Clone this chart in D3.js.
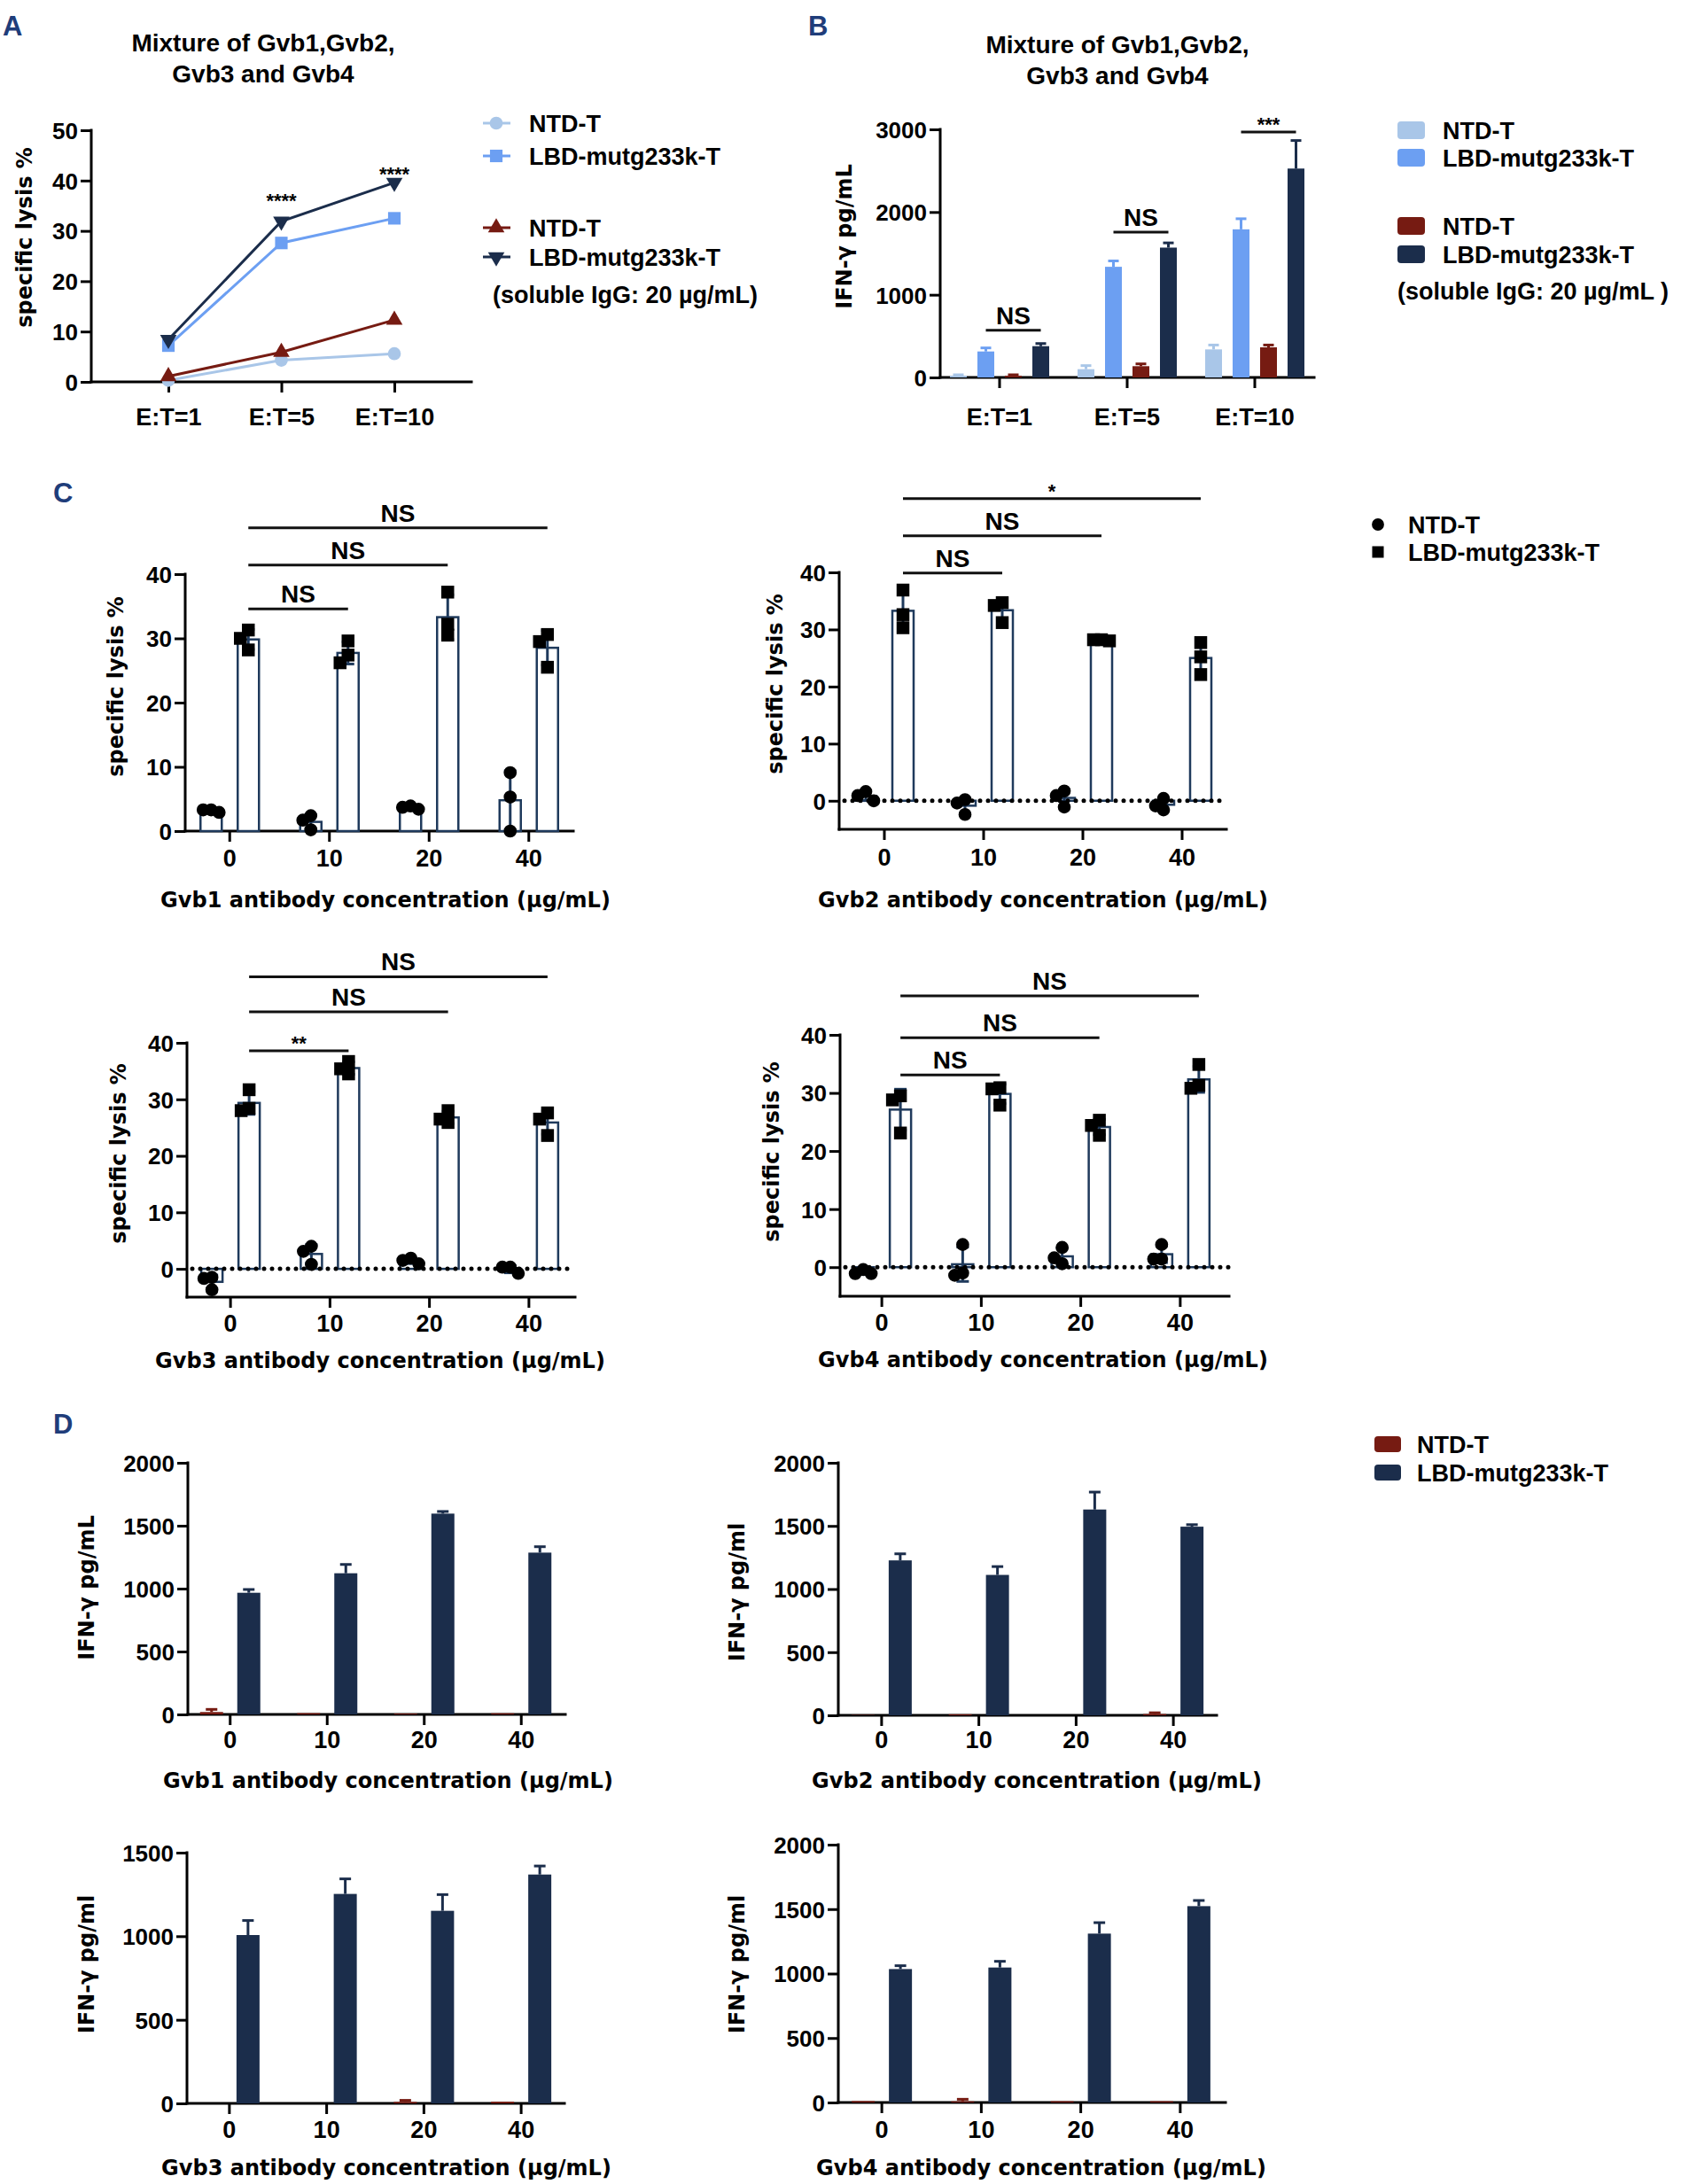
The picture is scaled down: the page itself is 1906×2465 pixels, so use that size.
<!DOCTYPE html>
<html>
<head>
<meta charset="utf-8">
<script src="https://cdn.jsdelivr.net/npm/d3@7"></script>
<style>body{margin:0;background:#fff}</style>
</head>
<body>
<script>
const W = 1906, H = 2465
const FONT = "'Liberation Sans', Arial, sans-serif"
const WIDE = "'DejaVu Sans', Verdana, sans-serif"

const colNtdLight = "#a9c6e8", colLbdLight = "#6c9ff2", colNtdRed = "#761b12"
const colNavy = "#1b2d4b", colOutline = "#1f3a5c", colLetter = "#1f3d7a"

// ---------- A: specific lysis, mixture ----------
const etLabels   = ["E:T=1", "E:T=5", "E:T=10"]
const aNtdLight  = [0.3, 4.3, 5.6]
const aLbdLight  = [7.2, 27.6, 32.5]
const aNtdRed    = [1.1, 5.9, 12.3]
const aLbdNavy   = [8.4, 31.9, 39.6]
const aStars     = ["", "****", "****"]
const aStarLevel = [0, 34.7, 40.0]
const aTicks     = [0, 10, 20, 30, 40, 50]

// ---------- B: IFN-γ, mixture ----------
const bSeries     = ["NTD-T", "LBD-mutg233k-T", "NTD-T ", "LBD-mutg233k-T "]
const bNtdLight   = [20, 100, 339]
const bNtdLightSd = [12, 43, 53]
const bLbdLight   = [314, 1338, 1791]
const bLbdLightSd = [43, 71, 128]
const bNtdRed     = [20, 136, 364]
const bNtdRedSd   = [12, 28, 28]
const bLbdNavy    = [378, 1570, 2526]
const bLbdNavySd  = [32, 57, 339]
const bTicks      = [0, 1000, 2000, 3000]
// group, from series, to series, level, label
const bBrackets = [
  {g: 0, from: 1, to: 3, level: 570, label: "NS"},
  {g: 1, from: 1, to: 3, level: 1757, label: "NS"},
  {g: 2, from: 1, to: 3, level: 2968, label: "***"}
]

// ---------- C: specific lysis per antibody (replicates) ----------
const concLabels = ["0", "10", "20", "40"]
const cTicks = [0, 10, 20, 30, 40]

const c1Ntd = [[2.9, 3.3, 3.3], [0.2, 2.4, 1.7], [3.4, 3.9, 3.7], [9.1, 5.3, 0.0]]
const c1Lbd = [[31.3, 30.0, 28.2], [29.6, 26.2, 27.4], [37.2, 30.5, 32.2], [30.6, 29.5, 25.5]]
const c1Brackets = [{to: 1, level: 34.6, label: "NS"}, {to: 2, level: 41.4, label: "NS"}, {to: 3, level: 47.2, label: "NS"}]

const c2Ntd = [[0.0, 1.6, 0.9], [-2.4, -0.4, 0.2], [1.7, 0.9, -1.1], [0.4, -0.9, -1.6]]
const c2Lbd = [[36.9, 32.6, 30.3], [34.7, 34.2, 31.2], [28.2, 28.0, 28.2], [27.7, 25.2, 22.1]]
const c2Brackets = [{to: 1, level: 39.9, label: "NS"}, {to: 2, level: 46.4, label: "NS"}, {to: 3, level: 52.9, label: "*"}]

const c3Ntd = [[-1.5, -1.7, -3.7], [0.8, 3.1, 4.0], [0.9, 1.9, 1.5], [-0.8, 0.3, 0.3]]
const c3Lbd = [[31.7, 28.0, 28.4], [34.5, 36.7, 35.4], [25.9, 28.0, 26.5], [26.5, 27.6, 23.6]]
const c3Brackets = [{to: 1, level: 38.6, label: "**"}, {to: 2, level: 45.5, label: "NS"}, {to: 3, level: 51.7, label: "NS"}]

const c4Ntd = [[-1.1, -0.4, -1.1], [3.9, -1.4, -1.0], [3.4, 1.6, 0.6], [3.9, 1.4, 1.4]]
const c4Lbd = [[29.5, 28.8, 23.1], [30.7, 27.9, 30.9], [22.7, 24.4, 25.3], [34.9, 30.8, 31.3]]
const c4Brackets = [{to: 1, level: 33.1, label: "NS"}, {to: 2, level: 39.5, label: "NS"}, {to: 3, level: 46.7, label: "NS"}]

// ---------- D: IFN-γ per antibody ----------
const d1Ntd = [19, 10, 7, 9],    d1NtdSd = [21, 0, 0, 0]
const d1Lbd = [967, 1122, 1596, 1286], d1LbdSd = [26, 70, 17, 47]
const d2Ntd = [3, 8, 0, 10],     d2NtdSd = [0, 0, 0, 10]
const d2Lbd = [1227, 1112, 1630, 1494], d2LbdSd = [52, 66, 138, 16]
const d3Ntd = [0, 0, 9, 10],     d3NtdSd = [0, 0, 9, 0]
const d3Lbd = [1007, 1253, 1152, 1369], d3LbdSd = [87, 90, 97, 51]
const d4Ntd = [11, 9, 10, 10],   d4NtdSd = [0, 16, 0, 0]
const d4Lbd = [1035, 1047, 1310, 1523], d4LbdSd = [26, 48, 85, 44]
const dTicks2000 = [0, 500, 1000, 1500, 2000]
const dTicks1500 = [0, 500, 1000, 1500]

const svg = d3.select("body").append("svg")
  .attr("width", W).attr("height", H)
  .style("background", "#fff")

// ---------- helpers ----------
function txt(g, x, y, s, size, opts = {}) {
  return g.append("text")
    .attr("x", x).attr("y", y)
    .attr("font-family", opts.family || FONT)
    .attr("font-weight", "bold")
    .attr("font-size", size)
    .attr("text-anchor", opts.anchor || "start")
    .attr("fill", opts.fill || "#000")
    .text(s)
}

function styleAxis(ax, fs) {
  ax.attr("font-family", FONT).attr("font-size", fs).attr("font-weight", "bold")
  ax.select(".domain").remove()
  ax.selectAll(".tick line").attr("stroke", "#000").attr("stroke-width", 3)
  ax.selectAll(".tick text").attr("fill", "#000")
}

// draws y axis, x axis line and the category ticks of one frame
function frame(f, yScale, yTicks, xScale) {
  const g = svg.append("g")
  const yl = g.append("g").attr("transform", `translate(${f.x0},0)`)
    .call(d3.axisLeft(yScale).tickValues(yTicks).tickFormat(d3.format("d"))
      .tickSize(12).tickSizeOuter(0).tickPadding(3))
  styleAxis(yl, 26)
  yl.selectAll(".tick text").attr("dy", "0.36em")

  const fs = 27
  const xl = g.append("g").attr("transform", `translate(0,${f.yB})`)
    .call(d3.axisBottom(xScale).tickSize(12).tickSizeOuter(0).tickPadding(f.gap - 12 - 0.71 * fs))
  styleAxis(xl, fs)

  g.append("line")
    .attr("x1", f.x0).attr("x2", f.x0)
    .attr("y1", yScale.range()[0]).attr("y2", yScale.range()[1])
    .attr("stroke", "#000").attr("stroke-width", 3).attr("stroke-linecap", "square")
  g.append("line")
    .attr("x1", f.x0).attr("x2", f.x1)
    .attr("y1", f.yB).attr("y2", f.yB)
    .attr("stroke", "#000").attr("stroke-width", 3).attr("stroke-linecap", "square")

  if (f.ylab) {
    g.append("text")
      .attr("transform", `translate(${f.ylab[0]},${f.ylab[1]}) rotate(-90)`)
      .attr("text-anchor", "middle")
      .attr("font-family", WIDE).attr("font-weight", "bold").attr("font-size", 24)
      .text(f.ylabText)
  }
  if (f.xt) txt(g, f.xt[0], f.xt[1], f.xtText, 24, {family: WIDE, anchor: "middle"})
  return g
}

function bracket(g, xa, xb, yy, label) {
  g.append("line").attr("x1", xa).attr("x2", xb).attr("y1", yy).attr("y2", yy)
    .attr("stroke", "#111").attr("stroke-width", 3)
  const star = label.includes("*")
  txt(g, (xa + xb) / 2, star ? yy - 1 : yy - 7, label, star ? 22 : 28, {anchor: "middle"})
}

function errBar(g, x, yA, yB, color, cap) {
  g.append("line").attr("x1", x).attr("x2", x).attr("y1", yA).attr("y2", yB)
    .attr("stroke", color).attr("stroke-width", 3)
  g.append("line").attr("x1", x - cap / 2).attr("x2", x + cap / 2).attr("y1", yB).attr("y2", yB)
    .attr("stroke", color).attr("stroke-width", 3)
}

// spread overlapping replicate points sideways
function dodge(vals, yScale, cx) {
  const placed = []
  const order = vals.map((v, i) => i).sort((a, b) => vals[b] - vals[a])
  for (const i of order) {
    const py = yScale(vals[i])
    let pos = null
    for (const off of [0, -9, 9, -18, 18]) {
      const ok = placed.every(p => Math.abs(p.x - (cx + off)) >= 8 || Math.abs(p.y - py) >= 12)
      if (ok) { pos = {x: cx + off, y: py}; break }
    }
    placed.push(pos || {x: cx, y: py})
  }
  return placed
}

// ---------- panel letters ----------
txt(svg, 3, 40, "A", 31, {fill: colLetter})
txt(svg, 912, 40, "B", 31, {fill: colLetter})
txt(svg, 60, 567, "C", 31, {fill: colLetter})
txt(svg, 60, 1618, "D", 31, {fill: colLetter})

// ---------- panel A ----------
{
  const f = {x0: 103, x1: 532, yB: 431, yT: 147, gap: 49, ylab: [36, 268], ylabText: "specific lysis %"}
  const y = d3.scaleLinear().domain([0, 50]).range([f.yB, f.yT])
  const x = d3.scalePoint().domain(etLabels).range([190, 445])
  const g = frame(f, y, aTicks, x)
  txt(g, 297, 58, "Mixture of Gvb1,Gvb2,", 28, {anchor: "middle"})
  txt(g, 297, 93, "Gvb3 and Gvb4", 28, {anchor: "middle"})

  const series = [
    {vals: aNtdLight, color: colNtdLight, sym: d3.symbolCircle, size: 170, rot: 0, name: "NTD-T"},
    {vals: aLbdLight, color: colLbdLight, sym: d3.symbolSquare, size: 200, rot: 0, name: "LBD-mutg233k-T"},
    {vals: aNtdRed, color: colNtdRed, sym: d3.symbolTriangle, size: 150, rot: 0, name: "NTD-T"},
    {vals: aLbdNavy, color: colNavy, sym: d3.symbolTriangle, size: 150, rot: 180, name: "LBD-mutg233k-T"}
  ]
  const line = d3.line().x((d, i) => x(etLabels[i])).y(d => y(d))
  series.forEach(s => {
    g.append("path").attr("d", line(s.vals)).attr("fill", "none")
      .attr("stroke", s.color).attr("stroke-width", 3)
    g.selectAll(null).data(s.vals).join("path")
      .attr("d", d3.symbol(s.sym, s.size))
      .attr("transform", (d, i) => `translate(${x(etLabels[i])},${y(d)}) rotate(${s.rot})`)
      .attr("fill", s.color)
  })
  aStars.forEach((s, i) => {
    if (s) txt(g, x(etLabels[i]), y(aStarLevel[i]), s, 22, {anchor: "middle"})
  })

  // legend
  const legY = [139, 176, 257, 290]
  series.forEach((s, i) => {
    g.append("line").attr("x1", 545).attr("x2", 576).attr("y1", legY[i]).attr("y2", legY[i])
      .attr("stroke", s.color).attr("stroke-width", 3)
    g.append("path").attr("d", d3.symbol(s.sym, s.size))
      .attr("transform", `translate(560,${legY[i]}) rotate(${s.rot})`).attr("fill", s.color)
    txt(g, 597, legY[i] + 10, s.name, 27)
  })
  txt(g, 556, 342, "(soluble IgG: 20 µg/mL)", 27)
}

// ---------- panel B ----------
{
  const f = {x0: 1061, x1: 1483, yB: 426, yT: 146, gap: 54, ylab: [961, 267], ylabText: "IFN-γ pg/mL"}
  const y = d3.scaleLinear().domain([0, 3000]).range([f.yB, f.yT])
  const x = d3.scaleBand().domain(etLabels).range([1056, 1488])
  const inner = d3.scalePoint().domain(bSeries).range([-46.5, 46.5])
  const g = frame(f, y, bTicks, x)
  txt(g, 1261, 60, "Mixture of Gvb1,Gvb2,", 28, {anchor: "middle"})
  txt(g, 1261, 95, "Gvb3 and Gvb4", 28, {anchor: "middle"})

  const vals = [bNtdLight, bLbdLight, bNtdRed, bLbdNavy]
  const sds = [bNtdLightSd, bLbdLightSd, bNtdRedSd, bLbdNavySd]
  const cols = [colNtdLight, colLbdLight, colNtdRed, colNavy]
  const bw = 19
  const cx = (gi, si) => x(etLabels[gi]) + x.bandwidth() / 2 + inner(bSeries[si])
  vals.forEach((v, si) => {
    v.forEach((d, gi) => {
      errBar(g, cx(gi, si), y(d), y(d + sds[si][gi]), cols[si], 12)
      g.append("rect").attr("x", cx(gi, si) - bw / 2).attr("y", y(d))
        .attr("width", bw).attr("height", y(0) - y(d)).attr("fill", cols[si])
    })
  })
  bBrackets.forEach(b => bracket(g, cx(b.g, b.from), cx(b.g, b.to), y(b.level), b.label))

  const legY = [147, 178, 255, 287]
  bSeries.forEach((s, i) => {
    g.append("rect").attr("x", 1577).attr("y", legY[i] - 10).attr("width", 31).attr("height", 20)
      .attr("rx", 4).attr("fill", cols[i])
    txt(g, 1628, legY[i] + 10, s.trim(), 27)
  })
  txt(g, 1577, 338, "(soluble IgG: 20 µg/mL )", 27)
}

// ---------- panel C ----------
function panelC(f, ntd, lbd, brackets) {
  const y = d3.scaleLinear().domain(f.domain).range([f.yB, f.yT])
  const x = d3.scaleBand().domain(concLabels).range(f.band)
  const inner = d3.scalePoint().domain(["NTD-T", "LBD-mutg233k-T"]).range([-21, 21])
  const g = frame(f, y, cTicks, x)
  const bw = 24
  const cx = (gi, name) => x(concLabels[gi]) + x.bandwidth() / 2 + inner(name)

  const groups = [{name: "NTD-T", data: ntd, sym: d3.symbolCircle, size: 170},
                  {name: "LBD-mutg233k-T", data: lbd, sym: d3.symbolSquare, size: 210}]
  groups.forEach(s => {
    s.data.forEach((reps, gi) => {
      const m = d3.mean(reps), sd = d3.deviation(reps)
      const c = cx(gi, s.name)
      g.append("rect").attr("x", c - bw / 2).attr("y", Math.min(y(0), y(m)))
        .attr("width", bw).attr("height", Math.abs(y(0) - y(m)))
        .attr("fill", "#fff").attr("stroke", colOutline).attr("stroke-width", 2.5)
      errBar(g, c, y(m), y(m + sd), colOutline, 14)
      errBar(g, c, y(m), y(m - sd), colOutline, 14)
    })
  })
  if (f.dotted) {
    g.append("line").attr("x1", f.x0 + 6).attr("x2", f.x1).attr("y1", y(0)).attr("y2", y(0))
      .attr("stroke", "#000").attr("stroke-width", 5)
      .attr("stroke-dasharray", "0,9").attr("stroke-linecap", "round")
  }
  groups.forEach(s => {
    s.data.forEach((reps, gi) => {
      dodge(reps, y, cx(gi, s.name)).forEach(p => {
        g.append("path").attr("d", d3.symbol(s.sym, s.size))
          .attr("transform", `translate(${p.x},${p.y})`).attr("fill", "#000")
      })
    })
  })
  brackets.forEach(b => bracket(g, cx(0, "LBD-mutg233k-T"), cx(b.to, "LBD-mutg233k-T"), y(b.level), b.label))
  return g
}

panelC({x0: 209, x1: 647, yB: 938, yT: 648, domain: [0, 40], band: [203, 653], gap: 40,
        ylab: [139, 775], ylabText: "specific lysis %", xt: [435, 1024],
        xtText: "Gvb1 antibody concentration (µg/mL)", dotted: false}, c1Ntd, c1Lbd, c1Brackets)
const gC2 = panelC({x0: 947, x1: 1384, yB: 936, yT: 646, domain: [-5, 40], band: [942, 1390], gap: 41,
        ylab: [883, 772], ylabText: "specific lysis %", xt: [1177, 1024],
        xtText: "Gvb2 antibody concentration (µg/mL)", dotted: true}, c2Ntd, c2Lbd, c2Brackets)
panelC({x0: 211, x1: 649, yB: 1464, yT: 1177, domain: [-5, 40], band: [204, 653], gap: 39,
        ylab: [142, 1302], ylabText: "specific lysis %", xt: [429, 1544],
        xtText: "Gvb3 antibody concentration (µg/mL)", dotted: true}, c3Ntd, c3Lbd, c3Brackets)
panelC({x0: 948, x1: 1387, yB: 1463, yT: 1168, domain: [-5, 40], band: [939, 1388], gap: 39,
        ylab: [879, 1300], ylabText: "specific lysis %", xt: [1177, 1543],
        xtText: "Gvb4 antibody concentration (µg/mL)", dotted: true}, c4Ntd, c4Lbd, c4Brackets)

// legend C
gC2.append("path").attr("d", d3.symbol(d3.symbolCircle, 150)).attr("transform", "translate(1555,592)")
txt(gC2, 1589, 602, "NTD-T", 27)
gC2.append("path").attr("d", d3.symbol(d3.symbolSquare, 170)).attr("transform", "translate(1555,623)")
txt(gC2, 1589, 633, "LBD-mutg233k-T", 27)

// ---------- panel D ----------
function panelD(f, ticks, ntd, ntdSd, lbd, lbdSd) {
  const y = d3.scaleLinear().domain(f.domain).range([f.yB, f.yT])
  const x = d3.scaleBand().domain(concLabels).range(f.band)
  const inner = d3.scalePoint().domain(["NTD-T", "LBD-mutg233k-T"]).range([-21, 21])
  const g = frame(f, y, ticks, x)
  const bw = 26
  const sets = [{name: "NTD-T", v: ntd, sd: ntdSd, color: colNtdRed},
                {name: "LBD-mutg233k-T", v: lbd, sd: lbdSd, color: colNavy}]
  sets.forEach(s => {
    s.v.forEach((d, gi) => {
      const c = x(concLabels[gi]) + x.bandwidth() / 2 + inner(s.name)
      if (s.sd[gi] > 0) errBar(g, c, y(d), y(d + s.sd[gi]), s.color, 13)
      g.append("rect").attr("x", c - bw / 2).attr("y", y(d))
        .attr("width", bw).attr("height", y(0) - y(d)).attr("fill", s.color)
    })
  })
  return g
}

panelD({x0: 212, x1: 638, yB: 1935, yT: 1651, domain: [0, 2000], band: [205, 643], gap: 38,
        ylab: [106, 1792], ylabText: "IFN-γ pg/mL", xt: [438, 2018],
        xtText: "Gvb1 antibody concentration (µg/mL)"}, dTicks2000, d1Ntd, d1NtdSd, d1Lbd, d1LbdSd)
const gD2 = panelD({x0: 946, x1: 1373, yB: 1936, yT: 1651, domain: [0, 2000], band: [940, 1379], gap: 37,
        ylab: [840, 1797], ylabText: "IFN-γ pg/ml", xt: [1170, 2018],
        xtText: "Gvb2 antibody concentration (µg/mL)"}, dTicks2000, d2Ntd, d2NtdSd, d2Lbd, d2LbdSd)
panelD({x0: 211, x1: 637, yB: 2374, yT: 2091, domain: [0, 1500], band: [204, 643], gap: 39,
        ylab: [106, 2217], ylabText: "IFN-γ pg/ml", xt: [436, 2455],
        xtText: "Gvb3 antibody concentration (µg/mL)"}, dTicks1500, d3Ntd, d3NtdSd, d3Lbd, d3LbdSd)
panelD({x0: 946, x1: 1383, yB: 2373, yT: 2082, domain: [0, 2000], band: [939, 1388], gap: 40,
        ylab: [840, 2217], ylabText: "IFN-γ pg/ml", xt: [1175, 2455],
        xtText: "Gvb4 antibody concentration (µg/mL)"}, dTicks2000, d4Ntd, d4NtdSd, d4Lbd, d4LbdSd)

// legend D
;[["NTD-T", colNtdRed, 1630], ["LBD-mutg233k-T", colNavy, 1662]].forEach(([name, c, yy]) => {
  gD2.append("rect").attr("x", 1551).attr("y", yy - 9).attr("width", 30).attr("height", 18)
    .attr("rx", 4).attr("fill", c)
  txt(gD2, 1599, yy + 10, name, 27)
})
</script>
</body>
</html>
